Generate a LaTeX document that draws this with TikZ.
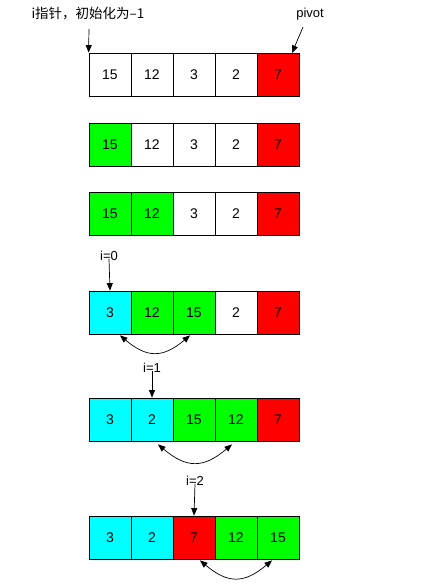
\documentclass[tikz,border=0pt]{standalone}
\usepackage{fontspec}
\setmainfont{Liberation Sans}
\newfontfamily\cjk{Noto Sans CJK SC}
\usetikzlibrary{arrows.meta}
\definecolor{cellred}{RGB}{255,0,0}
\definecolor{cellgreen}{RGB}{0,255,0}
\definecolor{cellcyan}{RGB}{0,255,255}
\begin{document}
\begin{tikzpicture}[x=1pt,y=-1pt,
cell/.style={draw=black,line width=0.8pt,minimum width=42pt,minimum height=43pt,
  inner sep=0pt,font=\fontsize{14}{16}\selectfont},
lbl/.style={font=\fontsize{13}{15}\selectfont,inner sep=1pt},
ptr/.style={-{Triangle[length=7.5pt,width=6pt]},line width=0.7pt},
swap/.style={{Triangle[length=7.5pt,width=6pt]}-{Triangle[length=7.5pt,width=6pt]},line width=0.7pt},]
\useasboundingbox (0,0) rectangle (431,587);
% rows of the array
\foreach \r/\y/\vals in {
    1/74.5/{15/white,12/white,3/white,2/white,7/cellred},
    2/144.5/{15/cellgreen,12/white,3/white,2/white,7/cellred},
    3/213.5/{15/cellgreen,12/cellgreen,3/white,2/white,7/cellred},
    4/312.5/{3/cellcyan,12/cellgreen,15/cellgreen,2/white,7/cellred},
    5/419.5/{3/cellcyan,2/cellcyan,15/cellgreen,12/cellgreen,7/cellred},
    6/537.5/{3/cellcyan,2/cellcyan,7/cellred,12/cellgreen,15/cellgreen}}
  \foreach \v/\c [count=\k] in \vals
    \node[cell,fill=\c] (r\r c\k) at (68+42*\k,\y) {\v};

% labels
\node[lbl,font=\cjk\fontsize{13.5}{15}\selectfont] (init) at (88,14) {i指针，初始化为–1};
\node[lbl] (pivot) at (310,14) {pivot};
\node[lbl] (i0) at (109,256) {i=0};
\node[lbl] (i1) at (152,368) {i=1};
\node[lbl] (i2) at (195,481) {i=2};

\coordinate (initstart) at (89,29);
\coordinate (pivotstart) at (303,27);
\coordinate (pivotend) at (292,53);
\draw[ptr] (initstart) -- (r1c1.north west);
\draw[ptr] (pivotstart) -- (pivotend);
\draw[ptr] (i0.south) ++(0,-3) coordinate (i0a) (i0a) -- (r4c1.north);
\draw[ptr] (i1.south) ++(0,-3) coordinate (i1a) (i1a) -- (r5c2.north);
\draw[ptr] (i2.south) ++(0,-3) coordinate (i2a) (i2a) -- (r6c3.north);

% swaps
\draw[swap] ([xshift=10pt,yshift=-1pt]r4c1.south) to[out=-40,in=-140,looseness=1.3] ([xshift=-4pt,yshift=-1pt]r4c3.south);
\draw[swap] ([xshift=6pt,yshift=-3pt]r5c2.south) to[out=-40,in=-140,looseness=1.3] ([xshift=-4pt,yshift=-3pt]r5c4.south);
\draw[swap] ([xshift=6pt,yshift=-1pt]r6c3.south) to[out=-40,in=-140,looseness=1.3] ([xshift=-6pt,yshift=-1pt]r6c5.south);
\end{tikzpicture}
\end{document}
